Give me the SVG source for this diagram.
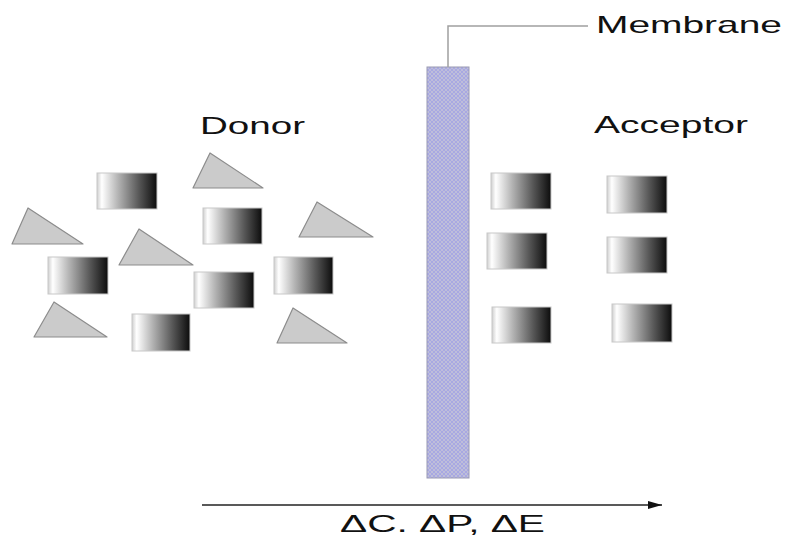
<svg xmlns="http://www.w3.org/2000/svg" width="787" height="539" viewBox="0 0 787 539">
<style>
.lbl{font-family:"Liberation Sans",Arial,sans-serif;font-size:24px;fill:#111}
.box{fill:url(#g);stroke:#c8c8c8;stroke-width:1}
.tri{fill:#cbcbcb;stroke:#8c8c8c;stroke-width:1.2;stroke-linejoin:round}
</style>
<defs>
<linearGradient id="g" x1="0" y1="0" x2="1" y2="0">
<stop offset="0" stop-color="#cfcfcf"/>
<stop offset="0.08" stop-color="#ffffff"/>
<stop offset="0.35" stop-color="#b4b4b4"/>
<stop offset="0.7" stop-color="#575757"/>
<stop offset="1" stop-color="#0c0c0c"/>
</linearGradient>
<pattern id="hatch" width="4" height="4" patternUnits="userSpaceOnUse">
<rect width="4" height="4" fill="#a8a8e2"/>
<path d="M0,0 L4,4 M4,0 L0,4" stroke="#c4c4d8" stroke-width="0.8"/>
</pattern>
<marker id="ah" markerWidth="14" markerHeight="8" refX="14" refY="4" orient="auto" markerUnits="userSpaceOnUse">
<path d="M0,0 L14,4 L0,8 Z" fill="#111"/>
</marker>
</defs>
<rect width="787" height="539" fill="#fff"/>

<g id="membrane">
<rect x="427" y="67" width="42" height="411" fill="url(#hatch)" stroke="#9a9ab4" stroke-width="1"/>
</g>

<g id="donor-molecules">
<rect class="box" x="97" y="173" width="60" height="36"/>
<rect class="box" x="203" y="208" width="59" height="36"/>
<rect class="box" x="48" y="257" width="60" height="37"/>
<rect class="box" x="194" y="272" width="60" height="36"/>
<rect class="box" x="274" y="257" width="59" height="37"/>
<rect class="box" x="132" y="314" width="58" height="37"/>
<polygon class="tri" points="210,153 193,188 263,188"/>
<polygon class="tri" points="28,208 12,244 83,244"/>
<polygon class="tri" points="139,229 119,265 193,265"/>
<polygon class="tri" points="317,202 299,237 373,237"/>
<polygon class="tri" points="54,302 34,337 107,337"/>
<polygon class="tri" points="293,308 277,343 347,343"/>
</g>

<g id="acceptor-molecules">
<rect class="box" x="491" y="173" width="60" height="36"/>
<rect class="box" x="607" y="176" width="60" height="37"/>
<rect class="box" x="487" y="233" width="60" height="36"/>
<rect class="box" x="607" y="237" width="60" height="36"/>
<rect class="box" x="492" y="307" width="59" height="36"/>
<rect class="box" x="612" y="304" width="60" height="38"/>
</g>

<g id="connectors">
<path d="M448,67 V26 H588" fill="none" stroke="#a0a0a0" stroke-width="1.5"/>
<line x1="202" y1="505" x2="662" y2="505" stroke="#222" stroke-width="1.6" marker-end="url(#ah)"/>
</g>

<g id="labels">
<text class="lbl" x="596" y="33" textLength="186" lengthAdjust="spacingAndGlyphs">Membrane</text>
<text class="lbl" x="200" y="134" textLength="105" lengthAdjust="spacingAndGlyphs">Donor</text>
<text class="lbl" x="594" y="133" textLength="154" lengthAdjust="spacingAndGlyphs">Acceptor</text>
<text class="lbl" x="340" y="532" font-size="23" textLength="205" lengthAdjust="spacingAndGlyphs">ΔC. ΔP, ΔE</text>
</g>
</svg>
